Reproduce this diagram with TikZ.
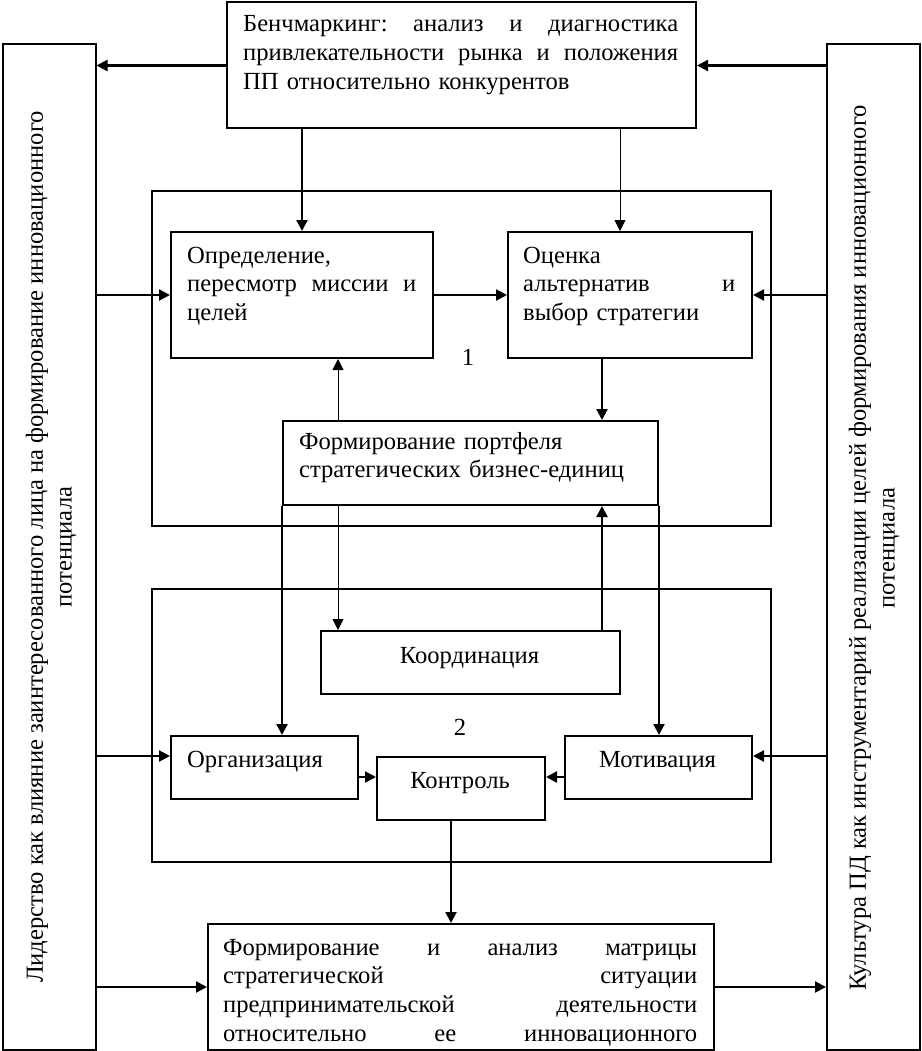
\documentclass[tikz,border=0pt]{standalone}
\usepackage{fontspec}
\setmainfont{Liberation Serif}
\usetikzlibrary{arrows.meta}
\newcommand\jline[2]{\leavevmode\hbox to #1{#2}}
\begin{document}
\begin{tikzpicture}[x=1pt,y=-1pt,
  box/.style={draw,line width=2pt,rectangle,inner sep=0pt,anchor=north west},
  txt/.style={inner sep=0pt,font=\fontsize{24.6}{28.8}\selectfont},
  arr/.style={line width=2.2pt,-{Triangle[length=11pt,width=11pt]}},
  tarr/.style={line width=0.9pt,-{Triangle[length=11pt,width=11pt]}}]
\useasboundingbox (0,0) rectangle (921,1051);
% boxes
\node[box,minimum width=93pt,minimum height=1006pt] (L) at (1.5,43) {};
\node[box,minimum width=93pt,minimum height=1006pt] (R) at (826,43) {};
\node[box,minimum width=469pt,minimum height=126pt] (T) at (226,1.5) {};
\node[box,minimum width=619pt,minimum height=335pt] (F1) at (151,190) {};
\node[box,minimum width=262pt,minimum height=126pt,fill=white] (D) at (170,231) {};
\node[box,minimum width=244pt,minimum height=126pt,fill=white] (O) at (507,231) {};
\node[box,minimum width=375pt,minimum height=84pt,fill=white] (P) at (282,420) {};
\node[box,minimum width=619pt,minimum height=273pt] (F2) at (151,588) {};
\node[box,minimum width=299pt,minimum height=63pt,fill=white] (K) at (320,630) {};
\node[box,minimum width=187pt,minimum height=63pt,fill=white] (Org) at (170,735) {};
\node[box,minimum width=168pt,minimum height=63pt,fill=white] (C) at (376,756) {};
\node[box,minimum width=187pt,minimum height=63pt,fill=white] (M) at (564,735) {};
\node[box,minimum width=506pt,minimum height=126pt] (B) at (207,923) {};
% texts
\node[txt,anchor=base west,text width=435pt,align=left] (tT) at (243,32)
 {\jline{435pt}{Бенчмаркинг:\hfill анализ\hfill и\hfill диагностика}\\
  \jline{435pt}{привлекательности\hfill рынка\hfill и\hfill положения}\\
  ПП относительно конкурентов};
\node[txt,anchor=base west,text width=229pt,align=left] (tD) at (187,263)
 {Определение,\\\jline{229pt}{пересмотр\hfill миссии\hfill и}\\целей};
\node[txt,anchor=base west,text width=212pt,align=left] (tO) at (523,263)
 {Оценка\\\jline{212pt}{альтернатив\hfill и}\\выбор стратегии};
\node[txt,anchor=base west,text width=350pt,align=left] (tP) at (299,449)
 {Формирование портфеля\\стратегических бизнес-единиц};
\node[txt,anchor=base] (tK) at (469.5,663) {Координация};
\node[txt,anchor=base west] (tOrg) at (187,767) {Организация};
\node[txt,anchor=base] (tC) at (460,788) {Контроль};
\node[txt,anchor=base] (tM) at (657.5,767) {Мотивация};
\node[txt,anchor=base west,text width=474pt,align=left] (tB) at (223,955)
 {\jline{474pt}{Формирование\hfill и\hfill анализ\hfill матрицы}\\
  \jline{474pt}{стратегической\hfill ситуации}\\
  \jline{474pt}{предпринимательской\hfill деятельности}\\
  \jline{474pt}{относительно\hfill ее\hfill инновационного}};
\node[txt,rotate=90,align=center] (tL) at (51,547)
 {Лидерство как влияние заинтересованного лица на формирование инновационного\\потенциала};
\node[txt,rotate=90,align=center] (tR) at (874,548)
 {Культура ПД как инструментарий реализации целей формирования инновационного\\потенциала};
\node[txt,anchor=center] (n1) at (468,357) {1};
\node[txt,anchor=center] (n2) at (460,727) {2};
% helper coordinates
\coordinate (xa) at (620,0);
\coordinate (xb) at (338,0);
\coordinate (xc) at (602,0);
\coordinate (xd) at (451,0);
\coordinate (ya) at (0,756);
\coordinate (yb) at (0,777);
% connectors
\draw[arr] (T.west) -- (T.west -| L.east);
\draw[arr] (R.west |- T.east) -- (T.east);
\draw[arr] (D.north |- T.south) -- (D.north);
\draw[tarr] (xa |- T.south) -- (xa |- O.north);
\draw[arr] (L.east |- D.west) -- (D.west);
\draw[arr] (D.east) -- (O.west);
\draw[arr] (R.west |- O.east) -- (O.east);
\draw[tarr] (xb |- P.north) -- (xb |- D.south);
\draw[arr] (xc |- O.south) -- (xc |- P.north);
\draw[tarr] (xb |- P.south) -- (xb |- K.north);
\draw[arr] (xc |- K.north) -- (xc |- P.south);
\draw[arr] (P.south west) -- (P.south west |- Org.north);
\draw[arr] (P.south east) -- (P.south east |- M.north);
\draw[arr] (L.east |- ya) -- (Org.west |- ya);
\draw[arr] (Org.east |- yb) -- (C.west |- yb);
\draw[arr] (M.west |- yb) -- (C.east |- yb);
\draw[arr] (R.west |- ya) -- (M.east |- ya);
\draw[arr] (xd |- C.south) -- (xd |- B.north);
\draw[arr] (L.east |- B.west) -- (B.west);
\draw[arr] (B.east) -- (R.west |- B.east);
\end{tikzpicture}
\end{document}
